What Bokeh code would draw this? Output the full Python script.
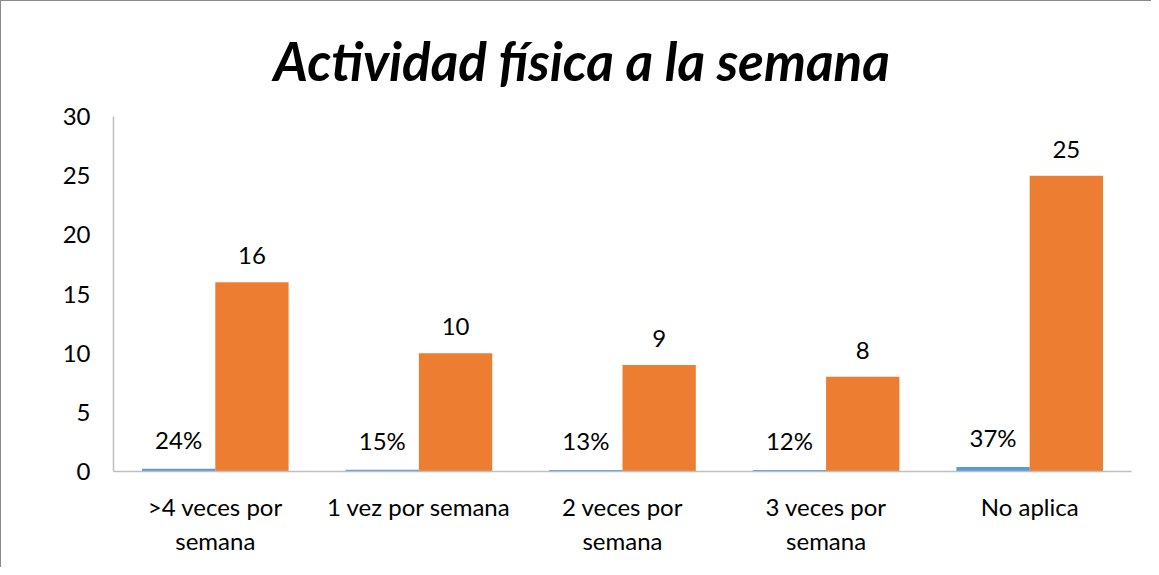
from bokeh.plotting import figure
from bokeh.models import ColumnDataSource, FactorRange, Range1d, FixedTicker
from bokeh.transform import dodge
from bokeh.core.properties import value
from bokeh.embed import file_html
from bokeh.resources import INLINE

categories = [">4 veces por\nsemana", "1 vez por semana", "2 veces por\nsemana", "3 veces por\nsemana", "No aplica"]
porcentaje = [0.24, 0.15, 0.13, 0.12, 0.37]
porcentaje_labels = ["24%", "15%", "13%", "12%", "37%"]
frecuencia = [16, 10, 9, 8, 25]
frecuencia_labels = ["16", "10", "9", "8", "25"]
y_ticks = [0, 5, 10, 15, 20, 25, 30]
title_text = "Actividad física a la semana"

FONT = "Lato"
BLUE = "#5B9BD5"
ORANGE = "#ED7D31"

src = ColumnDataSource(dict(cat=categories, pct=porcentaje, pct_lab=porcentaje_labels,
                            freq=frecuencia, freq_lab=frecuencia_labels))

p = figure(x_range=FactorRange(factors=categories, range_padding=0),
           y_range=Range1d(0, 30),
           width=1151, height=567, output_backend="svg", toolbar_location=None,
           min_border_left=112, min_border_right=21, min_border_bottom=97, min_border_top=115)

p.styles = {"border-left": "1px solid #8a8a8a", "border-top": "1px solid #8a8a8a"}

p.title.text = title_text
p.title.text_font = FONT
p.title.text_font_style = "bold italic"
p.title.text_font_size = "53px"
p.title.text_line_height = 0.9
p.title.text_color = "#000000"
p.title.align = "left"
p.title.offset = 160
p.title.standoff = 50

p.vbar(x=dodge("cat", -0.18, range=p.x_range), top="pct", width=0.36, source=src,
       fill_color=BLUE, line_color=None)
p.vbar(x=dodge("cat", 0.18, range=p.x_range), top="freq", width=0.36, source=src,
       fill_color=ORANGE, line_color=None)

p.text(x=dodge("cat", -0.18, range=p.x_range), y="pct", text="pct_lab", source=src,
       text_align="center", text_baseline="bottom", y_offset=-15,
       text_font=value(FONT), text_font_size="24px", text_color="#000000")
p.text(x=dodge("cat", 0.18, range=p.x_range), y="freq", text="freq_lab", source=src,
       text_align="center", text_baseline="bottom", y_offset=-18,
       text_font=value(FONT), text_font_size="24px", text_color="#000000")

p.xgrid.visible = False
p.ygrid.visible = False
p.outline_line_color = None

p.yaxis.ticker = FixedTicker(ticks=y_ticks)
for ax in (p.xaxis, p.yaxis):
    ax.major_tick_line_color = None
    ax.minor_tick_line_color = None
    ax.axis_line_color = "#BFBFBF"
    ax.axis_line_width = 1.5
    ax.major_label_text_font = FONT
    ax.major_label_text_font_size = "24px"
    ax.major_label_text_color = "#000000"
p.yaxis.major_label_standoff = 17
p.xaxis.major_label_standoff = 14

open("out.html", "w").write(file_html(p, INLINE))
